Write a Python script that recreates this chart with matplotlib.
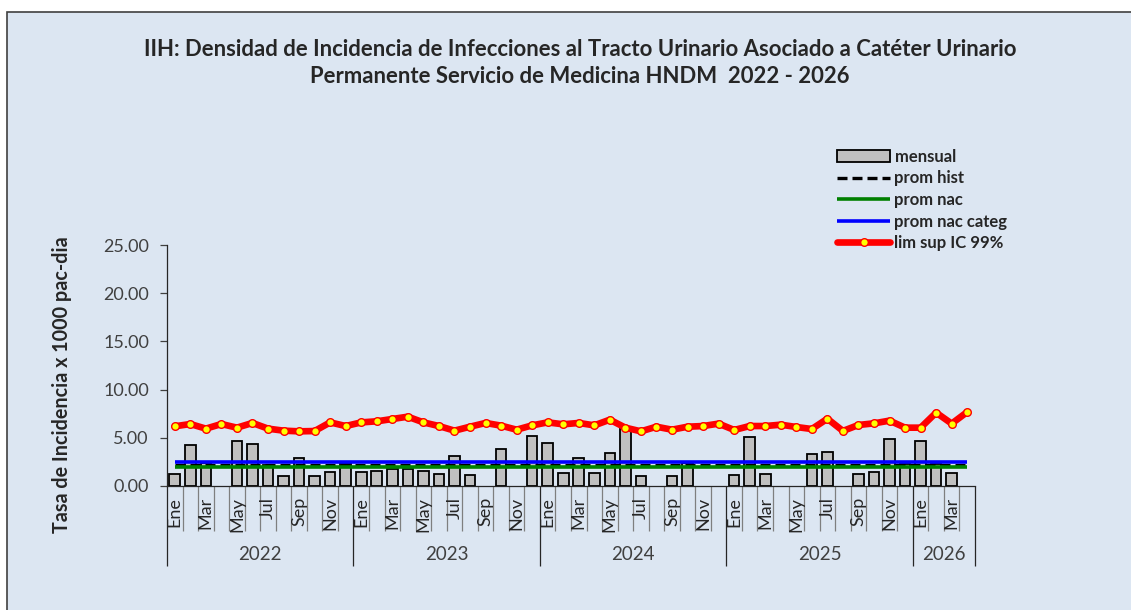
import numpy as np
import matplotlib
matplotlib.use('Agg')
import matplotlib.pyplot as plt
import matplotlib.transforms as mtransforms
from matplotlib.patches import Rectangle

plt.rcParams['font.family'] = ['Lato', 'DejaVu Sans']

BG = '#dce6f2'
TXT = '#262626'
GRAY_TXT = '#404040'

years = ['2022', '2023', '2024', '2025', '2026']
months_per_year = [12, 12, 12, 12, 4]
month_names = ['Ene', 'Feb', 'Mar', 'Abr', 'May', 'Jun', 'Jul', 'Ago', 'Sep', 'Oct', 'Nov', 'Dic']

nan = np.nan
mensual = [1.21, 4.28, 2.40, nan, 4.70, 4.36, 2.20, 1.00, 2.94, 1.00, 1.49, 2.40,
           1.49, 1.59, 1.73, 1.80, 1.59, 1.28, 3.08, 1.17, nan, 3.84, nan, 5.15,
           4.49, 1.38, 2.94, 1.38, 3.39, 5.98, 1.00, nan, 1.00, 2.35, nan, nan,
           1.11, 5.05, 1.28, nan, nan, 3.35, 3.53, nan, 1.28, 1.45, 4.88, 2.30,
           4.70, 2.30, 1.38, nan]
lim_sup = [6.19, 6.43, 5.95, 6.43, 6.05, 6.54, 5.95, 5.74, 5.67, 5.70, 6.60, 6.22,
           6.60, 6.71, 6.95, 7.19, 6.60, 6.22, 5.74, 6.15, 6.54, 6.26, 5.84, 6.29,
           6.60, 6.40, 6.54, 6.29, 6.88, 6.05, 5.67, 6.15, 5.84, 6.15, 6.22, 6.47,
           5.81, 6.22, 6.22, 6.36, 6.12, 5.91, 6.98, 5.71, 6.33, 6.50, 6.78, 6.05,
           6.05, 7.61, 6.47, 7.68]
prom_hist = 2.15
prom_nac = 1.95
prom_nac_categ = 2.50

n = len(mensual)
x = np.arange(n)

fig = plt.figure(figsize=(11.31, 6.10), dpi=100, facecolor='white')
# chart area background with border
fig.patches.append(Rectangle((7 / 1131, -0.05), 1.1, 1 - 12 / 610 + 0.05, transform=fig.transFigure,
                             facecolor=BG, edgecolor='#404040', lw=1.2, zorder=-10))

ax = fig.add_axes([167 / 1131, 1 - 486 / 610, (975 - 167) / 1131, (486 - 245) / 610])
ax.set_facecolor('none')
ax.set_zorder(1)

h_bar = ax.bar(x, mensual, width=0.68, color='#c0c0c0', edgecolor='black', lw=1.3, zorder=2, label='mensual')
h_hist = ax.hlines(prom_hist, x[0], x[-1], colors='black', linestyles=(0, (3, 1.5)), lw=2.4, zorder=3,
                   label='prom hist')
h_nac = ax.hlines(prom_nac, x[0], x[-1], colors='#008000', lw=2.6, zorder=4, label='prom nac')
h_cat = ax.hlines(prom_nac_categ, x[0], x[-1], colors='#0000ff', lw=2.6, zorder=5, label='prom nac categ')
h_lim, = ax.plot(x, lim_sup, color='red', lw=4.8, solid_joinstyle='round', solid_capstyle='round',
                 marker='o', ms=5.5, mfc='yellow', mec='red', mew=1.0, zorder=6, label='lim sup IC 99%')

ax.set_xlim(-0.5, n - 0.5)
ax.set_ylim(0, 25)
ax.set_yticks(np.arange(0, 26, 5))
ax.set_yticklabels([f'{v:.2f}' for v in np.arange(0, 26, 5)], fontsize=13, color=GRAY_TXT)
ax.tick_params(axis='y', length=5, width=0.9, color='#404040', pad=8)

for s in ['top', 'right']:
    ax.spines[s].set_visible(False)
ax.spines['left'].set_color('#262626')
ax.spines['bottom'].set_color('#262626')
ax.spines['left'].set_linewidth(0.9)
ax.spines['bottom'].set_linewidth(0.9)

# category axis: year boundaries (major) and month boundaries (minor)
bounds = np.cumsum([0] + months_per_year) - 0.5
ax.set_xticks(bounds)
ax.set_xticklabels([])
ax.set_xticks(np.arange(n + 1) - 0.5, minor=True)
ax.tick_params(axis='x', which='major', length=57.6, width=0.9, color='#262626')
ax.tick_params(axis='x', which='minor', length=32.4, width=0.9, color='#7f7f7f')

trans = mtransforms.blended_transform_factory(ax.transData, ax.transAxes)
i = 0
for yr, m in zip(years, months_per_year):
    for k in range(0, m, 2):
        ax.text(i + k, -11 / 241, month_names[k], transform=trans, rotation=90,
                ha='center', va='top', fontsize=13, color=TXT)
    ax.text(i + (m - 1) / 2, -68 / 241, yr, transform=trans, ha='center', va='center',
            fontsize=13.5, color=GRAY_TXT)
    i += m

fig.text(62 / 1131, 1 - 385 / 610, 'Tasa de Incidencia x 1000 pac-dia', rotation=90,
         ha='center', va='center', fontsize=14.2, fontweight='bold', color=TXT)

fig.text(580 / 1131, 1 - 63 / 610,
         'IIH: Densidad de Incidencia de Infecciones al Tracto Urinario Asociado a Catéter Urinario\n'
         'Permanente Servicio de Medicina HNDM  2022 - 2026',
         ha='center', va='center', fontsize=15.9, fontweight='bold', color=TXT, linespacing=1.3)

leg = ax.legend([h_bar, h_hist, h_nac, h_cat, h_lim],
                ['mensual', 'prom hist', 'prom nac', 'prom nac categ', 'lim sup IC 99%'],
                loc='upper left', bbox_to_anchor=(837 / 1131, 1 - 149 / 610),
                bbox_transform=fig.transFigure, frameon=False, fontsize=12,
                handlelength=3.2, handletextpad=0.25, labelspacing=0.33, borderpad=0, borderaxespad=0)
for t in leg.get_texts():
    t.set_fontweight('bold')
    t.set_color(TXT)

fig.savefig('out.png', dpi=100, facecolor='white')
